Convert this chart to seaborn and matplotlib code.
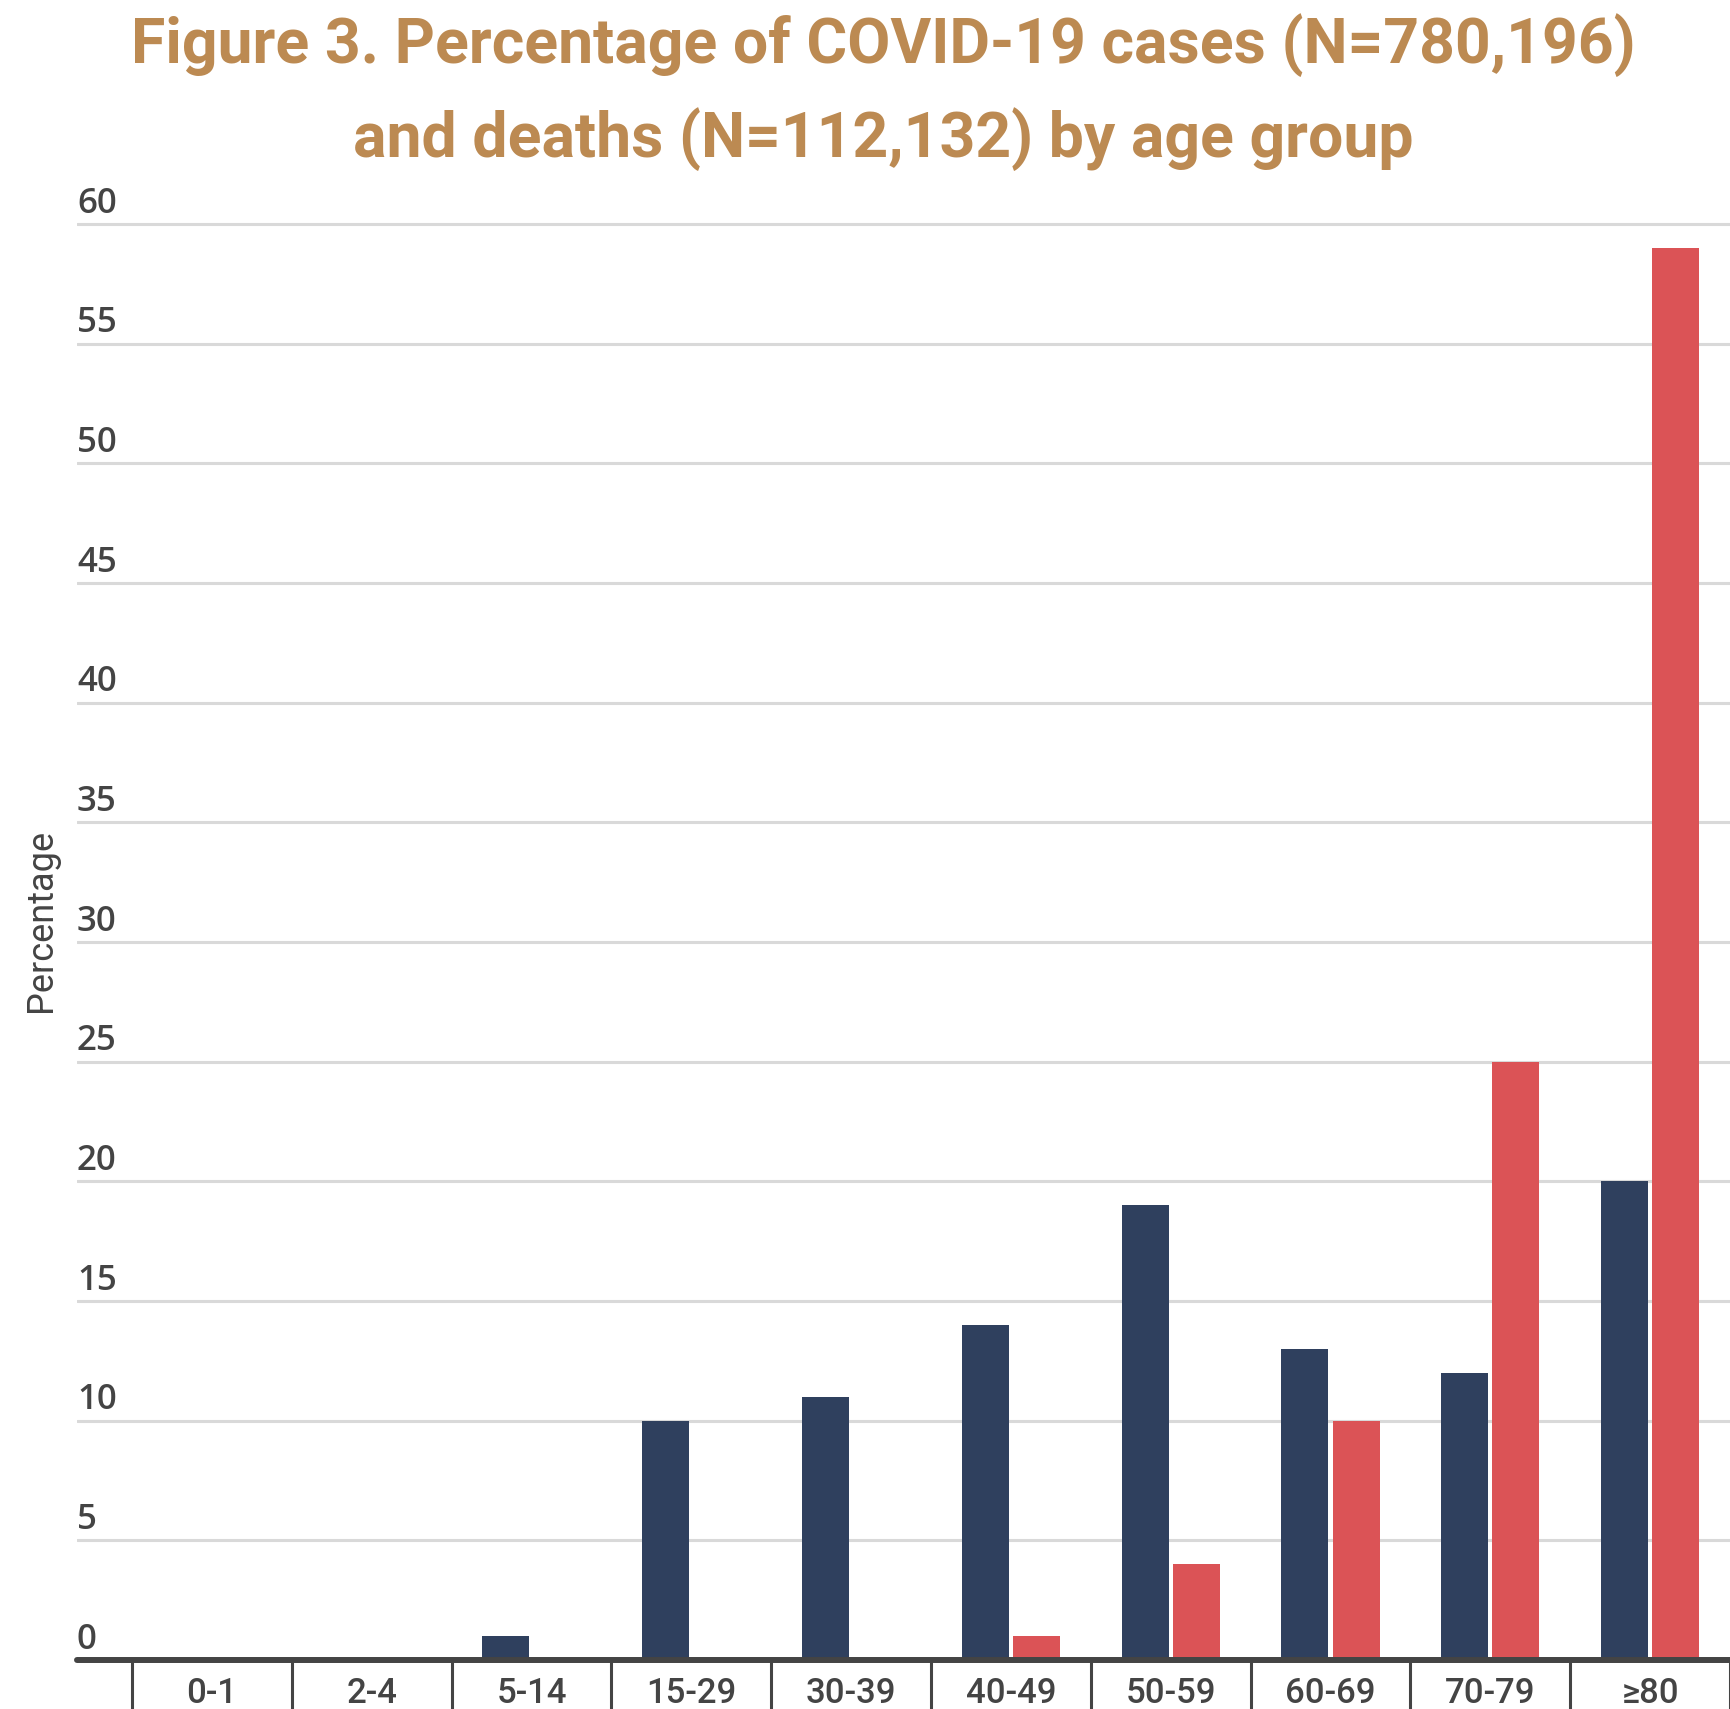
import matplotlib
matplotlib.use("Agg")
import matplotlib.pyplot as plt
import seaborn as sns
import pandas as pd

# --- data ---
age_groups = ["0-1", "2-4", "5-14", "15-29", "30-39", "40-49", "50-59", "60-69", "70-79", "≥80"]
cases_pct = [0, 0, 1, 10, 11, 14, 19, 13, 12, 20]
deaths_pct = [0, 0, 0, 0, 0, 1, 4, 10, 25, 59]
series = ["Cases", "Deaths"]
yticks = list(range(0, 61, 5))

title_line1 = "Figure 3. Percentage of COVID-19 cases (N=780,196)"
title_line2 = "and deaths (N=112,132) by age group"

df = pd.DataFrame({
    "age": age_groups * 2,
    "pct": cases_pct + deaths_pct,
    "series": [series[0]] * len(age_groups) + [series[1]] * len(age_groups),
})

sns.set_style("white")
plt.rcParams["font.family"] = ["Roboto", "DejaVu Sans"]

W, H = 1730, 1709
fig = plt.figure(figsize=(W / 100, H / 100), dpi=100)
ax_bottom = 1 - 1660 / H
ax_top = 1 - 216.8 / H
ax_left = 77 / W
ax = fig.add_axes([ax_left, ax_bottom, 1 - ax_left, ax_top - ax_bottom])

sns.barplot(data=df, x="age", y="pct", hue="series", hue_order=series,
            order=age_groups, palette=["#2f405e", "#db5356"], saturation=1,
            width=0.64, gap=0.08, linewidth=0, legend=False, ax=ax, zorder=3)

ax.set_xlim(-0.844, 9.48)
ax.set_ylim(0, 60.3)
sns.despine(ax=ax, left=True, bottom=True, top=True, right=True)

# gridlines + labels sitting above them
ax.set_yticks(yticks)
ax.yaxis.grid(True, color="#d9d9d9", linewidth=2.2, zorder=0)
ax.tick_params(axis="y", left=False, labelleft=False)
for v in yticks:
    ax.annotate(str(v), xy=(0, v), xycoords=("axes fraction", "data"),
                xytext=(0, 8.2), textcoords="offset points",
                ha="left", va="baseline", fontsize=25, color="#444444",
                family=["Open Sans", "DejaVu Sans"], fontweight="semibold")

# thick baseline
ax.axhline(0, color="#444444", linewidth=4.3, zorder=4, clip_on=False)

# category separators below the axis
ax.set_xticks([i - 0.5 for i in range(len(age_groups) + 1)], minor=True)
ax.tick_params(axis="x", which="minor", bottom=True, length=36, width=2.2,
               color="#444444", direction="out")
ax.tick_params(axis="x", which="major", bottom=False, length=0, pad=12,
               labelsize=25, labelcolor="#444444")
for lbl in ax.get_xticklabels():
    lbl.set_fontweight("medium")
ax.set_xlabel("")
ax.set_ylabel("")

fig.text(41 / W, 1 - 920 / H, "Percentage", rotation=90, ha="center", va="center",
         fontsize=26, color="#444444")

title_color = "#bc8a52"
fig.text(883 / W, 1 - 63 / H, title_line1, ha="center", va="baseline",
         fontsize=45, fontweight="bold", color=title_color)
fig.text(883 / W, 1 - 157 / H, title_line2, ha="center", va="baseline",
         fontsize=45, fontweight="bold", color=title_color)

fig.savefig("out.png", dpi=100)
